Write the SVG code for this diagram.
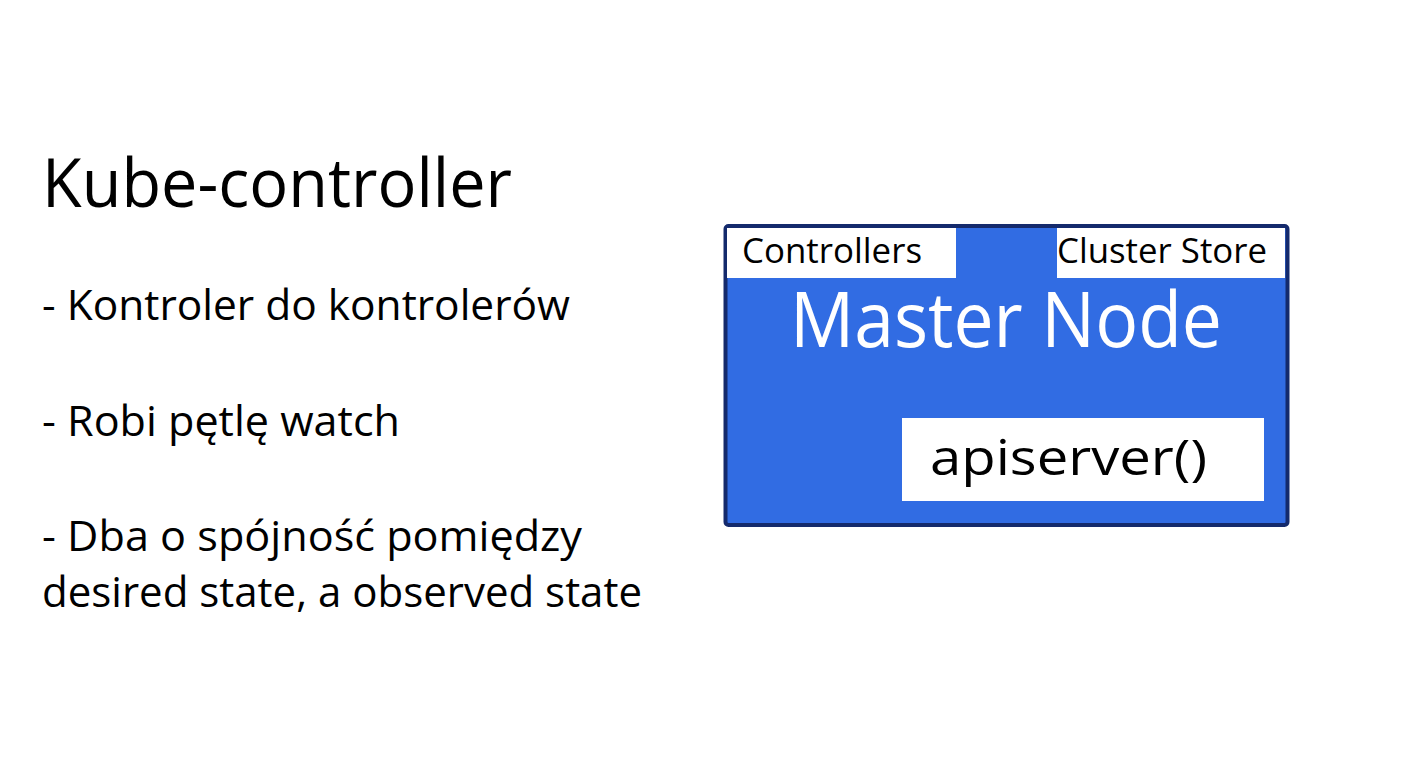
<svg xmlns="http://www.w3.org/2000/svg" width="1428" height="768" viewBox="0 0 1428 768">
<style>
text{font-family:"Open Sans","Noto Sans","DejaVu Sans",sans-serif;fill:#000}
.w{fill:#fff}
.box{fill:#fff}
</style>
<rect width="1428" height="768" fill="#fff"/>
<g id="text">
<text x="42" y="207" font-size="68" textLength="470" lengthAdjust="spacingAndGlyphs">Kube-controller</text>
<text x="42" y="320" font-size="42" textLength="528" lengthAdjust="spacingAndGlyphs">- Kontroler do kontrolerów</text>
<text x="42" y="436" font-size="42" textLength="358" lengthAdjust="spacingAndGlyphs">- Robi pętlę watch</text>
<text x="42" y="551" font-size="42" textLength="540" lengthAdjust="spacingAndGlyphs">- Dba o spójność pomiędzy</text>
<text x="42" y="607" font-size="42" textLength="600" lengthAdjust="spacingAndGlyphs">desired state, a observed state</text>
</g>
<g id="master-node">
<rect x="725.5" y="226" width="562" height="299" rx="3" fill="#316ce3" stroke="#142a6c" stroke-width="4"/>
<text class="w" x="790" y="347" font-size="76" textLength="432" lengthAdjust="spacingAndGlyphs">Master Node</text>
</g>
<g id="controllers">
<rect class="box" x="727" y="228" width="229" height="50"/>
<text x="742" y="263" font-size="34" textLength="180" lengthAdjust="spacingAndGlyphs">Controllers</text>
</g>
<g id="cluster-store">
<rect class="box" x="1057" y="228" width="228" height="50"/>
<text x="1057" y="263" font-size="34" textLength="210" lengthAdjust="spacingAndGlyphs">Cluster Store</text>
</g>
<g id="apiserver">
<rect class="box" x="902" y="418" width="362" height="83"/>
<text x="930" y="475" font-size="50" textLength="277" lengthAdjust="spacingAndGlyphs">apiserver()</text>
</g>
<g id="connectors"/>
</svg>
